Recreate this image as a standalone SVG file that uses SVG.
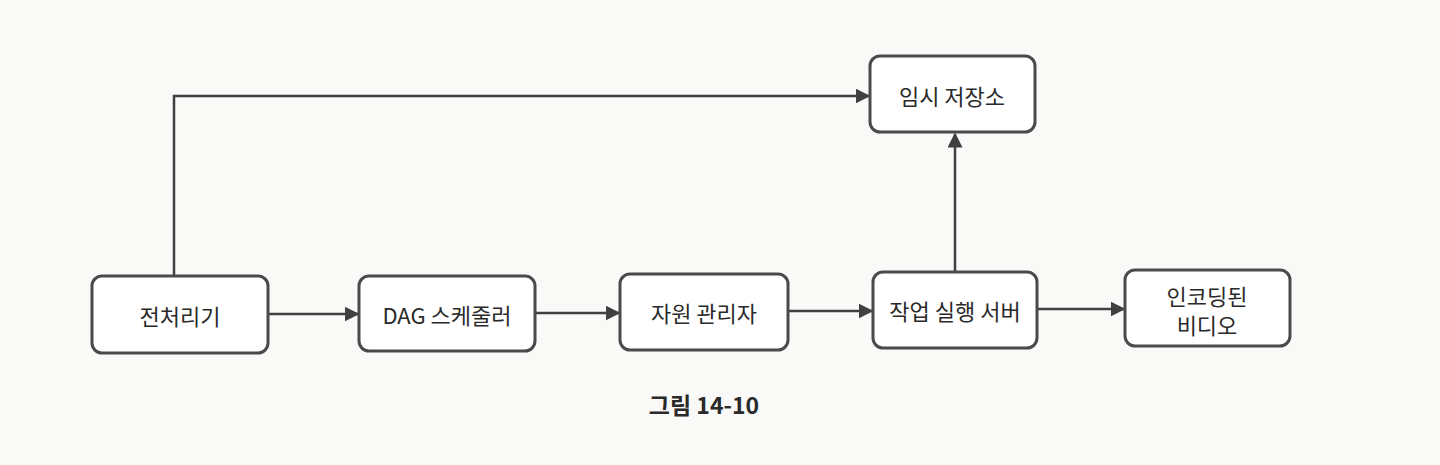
<svg xmlns="http://www.w3.org/2000/svg" width="1440" height="465" viewBox="0 0 1440 465">
<defs>
<style>
.box{fill:#ffffff;stroke:#4a4a4a;stroke-width:3}
.lbl{font-family:"Noto Sans CJK KR","Noto Sans",sans-serif;font-size:22px;fill:#2a2a2a;text-anchor:middle;dominant-baseline:central}
.edge{fill:none;stroke:#404040;stroke-width:2.5}
.cap{font-family:"Noto Sans CJK KR","Noto Sans",sans-serif;font-size:23px;font-weight:bold;fill:#2a2a2a;text-anchor:middle;dominant-baseline:central}
</style>
<marker id="arr" viewBox="0 0 10 10" refX="9" refY="5" markerWidth="6" markerHeight="6" orient="auto" markerUnits="strokeWidth">
<path d="M0,0 L10,5 L0,10 z" fill="#404040"/>
</marker>
</defs>
<rect width="1440" height="465" fill="#f9f9f8"/>
<g id="connectors">
<path class="edge" d="M174,276 L174,96 L869,96" marker-end="url(#arr)"/>
<path class="edge" d="M268,314 L358,314" marker-end="url(#arr)"/>
<path class="edge" d="M535,313 L619,313" marker-end="url(#arr)"/>
<path class="edge" d="M788,311 L872,311" marker-end="url(#arr)"/>
<path class="edge" d="M1037,309 L1124,309" marker-end="url(#arr)"/>
<path class="edge" d="M955,272 L955,134" marker-end="url(#arr)"/>
</g>
<g id="preprocessor">
<rect class="box" x="92" y="276" width="176" height="77" rx="10"/>
<text class="lbl" x="180" y="315">전처리기</text>
</g>
<g id="dag-scheduler">
<rect class="box" x="359" y="276" width="176" height="75" rx="10"/>
<text class="lbl" x="447" y="314">DAG 스케줄러</text>
</g>
<g id="resource-manager">
<rect class="box" x="620" y="274" width="168" height="76" rx="10"/>
<text class="lbl" x="704" y="312">자원 관리자</text>
</g>
<g id="task-server">
<rect class="box" x="873" y="272" width="164" height="76" rx="10"/>
<text class="lbl" x="955" y="310">작업 실행 서버</text>
</g>
<g id="temp-storage">
<rect class="box" x="870" y="56" width="165" height="76" rx="10"/>
<text class="lbl" x="952" y="95">임시 저장소</text>
</g>
<g id="encoded-video">
<rect class="box" x="1125" y="270" width="165" height="76" rx="10"/>
<text class="lbl" x="1207" y="295">인코딩된</text>
<text class="lbl" x="1207" y="324">비디오</text>
</g>
<text class="cap" x="704" y="404">그림 14-10</text>
</svg>
